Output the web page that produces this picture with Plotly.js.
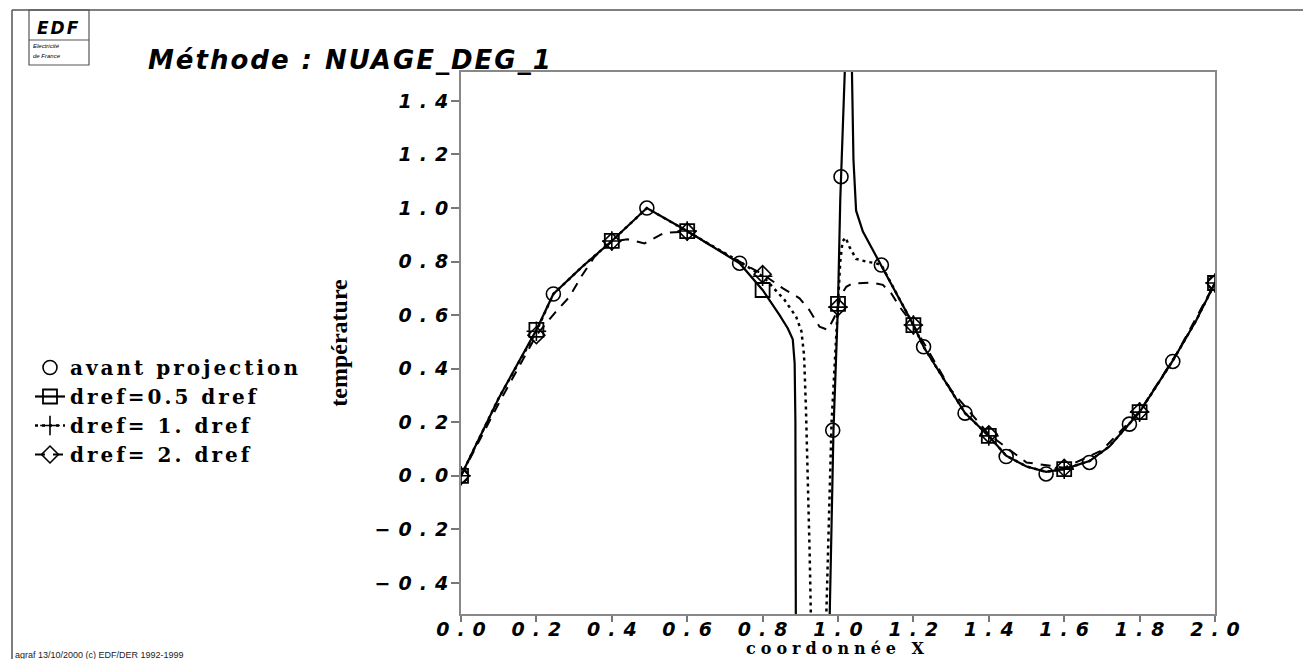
<!DOCTYPE html>
<html><head><meta charset="utf-8">
<script src="https://cdn.plot.ly/plotly-3.0.1.min.js"></script>
<style>
html,body{margin:0;padding:0;background:#fff;}
#chart{width:1303px;height:659px;}
.xtick text,.ytick text{letter-spacing:8px;}
.legendtext{letter-spacing:3px;}
.gtitle{letter-spacing:2px;}
g.annotation[data-index="0"] text{letter-spacing:2px;}
g.annotation[data-index="4"] text{letter-spacing:5px;}
</style></head>
<body><div id="chart"></div>
<script>
// ---- data ----
const gridX = [0.0, 0.2, 0.4, 0.6, 0.8, 1.0, 1.2, 1.4, 1.6, 1.8, 2.0];
const yTicks = [-0.4, -0.2, 0.0, 0.2, 0.4, 0.6, 0.8, 1.0, 1.2, 1.4];

// avant projection (markers only)
const avantX = [0.0, 0.245, 0.493, 0.739, 0.986, 1.008, 1.115, 1.227, 1.337, 1.446, 1.552, 1.667, 1.773, 1.888, 2.0];
const avantY = [0.0, 0.679, 1.0, 0.794, 0.17, 1.117, 0.787, 0.482, 0.234, 0.072, 0.007, 0.05, 0.193, 0.427, 0.72];

// marker values on gridX
const sqY   = [0.0, 0.545, 0.877, 0.914, 0.694, 0.642, 0.563, 0.149, 0.025, 0.238, 0.72];
const plusY = [0.0, 0.54, 0.877, 0.914, 0.745, 0.63, 0.563, 0.149, 0.025, 0.238, 0.72];
const diaY  = [0.0, 0.525, 0.875, 0.912, 0.753, 0.63, 0.563, 0.155, 0.03, 0.24, 0.72];

// curve points between markers
const solidX = [0.1, 0.245, 0.32, 0.493, 0.739, 0.845, 0.867, 0.88, 0.885, 0.887, 0.889, 0.891, 0.892,
  0.976, 0.978, 0.988, 1.006, 1.018, 1.027, 1.037, 1.041, 1.048, 1.066, 1.083, 1.115, 1.227, 1.337,
  1.446, 1.5, 1.552, 1.667, 1.72, 1.773, 1.888, 1.95];
const solidY = [0.29, 0.679, 0.779, 1.0, 0.794, 0.60, 0.55, 0.51, 0.42, 0.2, -0.1, -0.5, -3,
  -3, -0.52, 0.17, 1.03, 1.51, 3.5, 1.51, 1.18, 0.99, 0.912, 0.868, 0.787, 0.482, 0.234,
  0.075, 0.035, 0.015, 0.055, 0.11, 0.195, 0.43, 0.58];

const dotX = [0.1, 0.245, 0.32, 0.493, 0.739, 0.81, 0.858, 0.889, 0.903, 0.91, 0.915, 0.92, 0.925, 0.928, 0.93,
  0.966, 0.969, 0.983, 1.006, 1.012, 1.02, 1.03, 1.048, 1.075, 1.1, 1.115, 1.227, 1.337,
  1.446, 1.5, 1.552, 1.667, 1.72, 1.773, 1.888, 1.95];
const dotY = [0.29, 0.679, 0.779, 1.0, 0.80, 0.731, 0.657, 0.594, 0.54, 0.45, 0.25, 0.0, -0.3, -0.52, -3,
  -3, -0.52, 0.2, 0.8, 0.875, 0.89, 0.856, 0.81, 0.8, 0.794, 0.787, 0.482, 0.234,
  0.075, 0.035, 0.015, 0.055, 0.11, 0.195, 0.43, 0.58];

const dashX = [0.1, 0.248, 0.288, 0.319, 0.354, 0.442, 0.487, 0.54, 0.7, 0.854, 0.898, 0.924, 0.951, 0.973, 0.991,
  1.006, 1.022, 1.039, 1.092, 1.119, 1.141, 1.163, 1.3, 1.5, 1.7, 1.9];
const dashY = [0.27, 0.607, 0.669, 0.744, 0.818, 0.883, 0.868, 0.908, 0.83, 0.70, 0.663, 0.619, 0.557, 0.545, 0.594,
  0.67, 0.706, 0.719, 0.721, 0.713, 0.682, 0.632, 0.32, 0.05, 0.095, 0.46];

// ---- build traces ----
function merge(cx, cy, mx, my) {
  const pts = cx.map((x, i) => ({x: x, y: cy[i], m: false}))
    .concat(mx.map((x, i) => ({x: x, y: my[i], m: true})));
  pts.sort((a, b) => a.x - b.x);
  return {
    x: pts.map(p => p.x),
    y: pts.map(p => p.y),
    c: pts.map(p => p.m ? '#000000' : 'rgba(0,0,0,0)')
  };
}
const s = merge(solidX, solidY, gridX, sqY);
const d = merge(dotX, dotY, gridX, plusY);
const h = merge(dashX, dashY, gridX, diaY);

const traces = [
  {x: avantX, y: avantY, name: 'avant projection', mode: 'markers', type: 'scatter',
   marker: {symbol: 'circle-open', size: 14, color: '#000', line: {width: 1.6}}},
  {x: s.x, y: s.y, name: 'dref=0.5 dref', mode: 'lines+markers', type: 'scatter',
   line: {color: '#000', width: 2.2},
   marker: {symbol: 'square-open', size: 14, color: s.c, line: {width: 1.8}}},
  {x: d.x, y: d.y, name: 'dref= 1. dref', mode: 'lines+markers', type: 'scatter',
   line: {color: '#000', width: 2.5, dash: '3px,4px'},
   marker: {symbol: 'cross-thin-open', size: 14, color: d.c, line: {width: 1.6}}},
  {x: h.x, y: h.y, name: 'dref= 2. dref', mode: 'lines+markers', type: 'scatter',
   line: {color: '#000', width: 2, dash: '10px,8px'},
   marker: {symbol: 'diamond-open', size: 13, color: h.c, line: {width: 1.6}}}
];

// pixel -> paper helpers for decoration
const L = 461, R = 1215, T = 72, B = 614;
const px = X => (X - L) / (R - L);
const py = Y => (B - Y) / (B - T);

const tickFont = {family: 'DejaVu Sans', size: 19, weight: 'bold', style: 'italic', color: '#000'};

const layout = {
  width: 1303, height: 659,
  margin: {l: L, r: 1303 - R, t: T, b: 659 - B},
  paper_bgcolor: '#ffffff', plot_bgcolor: '#ffffff',
  showlegend: true,
  title: {text: 'Méthode : NUAGE_DEG_1',
    font: {family: 'DejaVu Sans', size: 26, weight: 'bold', style: 'italic', color: '#000'},
    xref: 'container', yref: 'container', x: 148 / 1303, xanchor: 'left', y: 1 - 60 / 659, yanchor: 'middle'},
  xaxis: {range: [0, 2], tickvals: gridX, tickformat: '.1f', ticks: 'outside', ticklen: 6, tickwidth: 1.5,
    tickcolor: '#777', showline: true, linecolor: '#888', linewidth: 2, mirror: true,
    showgrid: false, zeroline: false, tickfont: tickFont, ticklabelstandoff: -9, ticklabelshift: 4},
  yaxis: {range: [-0.516, 1.508], tickvals: yTicks, tickformat: '.1f', ticks: 'outside', ticklen: 8, tickwidth: 1.5,
    tickcolor: '#777', showline: true, linecolor: '#888', linewidth: 2, mirror: true,
    showgrid: false, zeroline: false, tickfont: tickFont, ticklabelstandoff: -9,
    title: {text: 'température', font: {family: 'Liberation Serif', size: 24, weight: 'bold', color: '#000'}, standoff: 20}},
  legend: {x: px(30), xanchor: 'left', y: py(348), yanchor: 'top',
    font: {family: 'DejaVu Serif', size: 20, weight: 'bold', color: '#000'},
    bgcolor: 'rgba(0,0,0,0)', borderwidth: 0},
  shapes: [
    {type: 'line', xref: 'paper', yref: 'paper', x0: px(12), x1: px(12), y0: py(10), y1: py(670), line: {color: '#555', width: 1.5}},
    {type: 'line', xref: 'paper', yref: 'paper', x0: px(12), x1: px(1310), y0: py(10), y1: py(10), line: {color: '#555', width: 1.5}},
    {type: 'rect', xref: 'paper', yref: 'paper', x0: px(29), x1: px(89), y0: py(65), y1: py(10), line: {color: '#555', width: 1.2}},
    {type: 'line', xref: 'paper', yref: 'paper', x0: px(29), x1: px(89), y0: py(40), y1: py(40), line: {color: '#555', width: 1.2}}
  ],
  annotations: [
    {text: 'EDF', xref: 'paper', yref: 'paper', x: px(59), y: py(28), xanchor: 'center', yanchor: 'middle', showarrow: false,
     font: {family: 'DejaVu Sans', size: 17, weight: 'bold', style: 'italic', color: '#000'}},
    {text: 'Electricité', xref: 'paper', yref: 'paper', x: px(31), y: py(46), xanchor: 'left', yanchor: 'middle', showarrow: false,
     font: {family: 'Liberation Sans', size: 6, style: 'italic', color: '#000'}},
    {text: 'de France', xref: 'paper', yref: 'paper', x: px(31), y: py(56), xanchor: 'left', yanchor: 'middle', showarrow: false,
     font: {family: 'Liberation Sans', size: 6, style: 'italic', color: '#000'}},
    {text: 'agraf 13/10/2000 (c) EDF/DER 1992-1999', xref: 'paper', yref: 'paper', x: px(13), y: py(655), xanchor: 'left', yanchor: 'middle', showarrow: false,
     font: {family: 'Liberation Sans', size: 9, color: '#222'}},
    // x-axis title, placed as an annotation in the strip under the tick labels
    {text: 'coordonnée X', xref: 'paper', yref: 'paper', x: 0.5, y: py(659), xanchor: 'center', yanchor: 'bottom', showarrow: false,
     borderpad: 0, font: {family: 'DejaVu Serif', size: 16, weight: 'bold', color: '#000'}}
  ]
};

Plotly.newPlot('chart', traces, layout, {displayModeBar: false, responsive: false});
</script></body></html>
